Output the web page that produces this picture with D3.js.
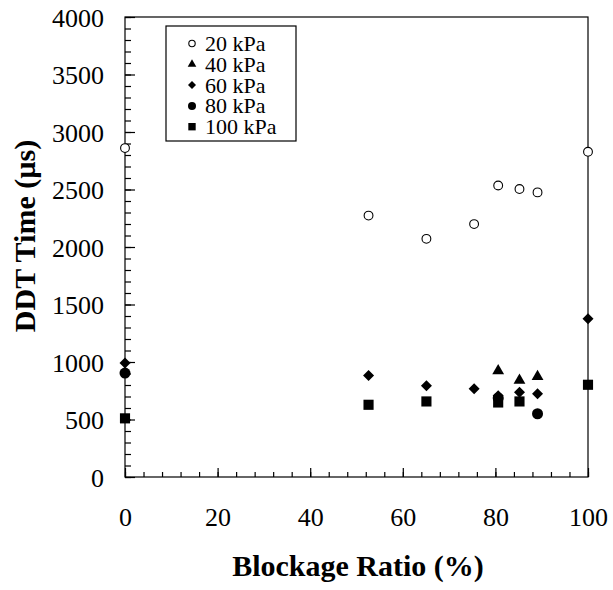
<!DOCTYPE html>
<html>
<head>
<meta charset="utf-8">
<script src="https://cdn.jsdelivr.net/npm/d3@7"></script>
<style>
  body { margin: 0; background: #fff; }
</style>
</head>
<body>
<script>
// Constant
const w = 613;
const h = 590;
const margin = {left: 125, right: 25, top: 17, bottom: 113};
const serif = '"Liberation Serif", "DejaVu Serif", serif';

// Data
const xTicks = [0, 20, 40, 60, 80, 100];
const yTicks = [0, 500, 1000, 1500, 2000, 2500, 3000, 3500, 4000];

const x20 = [0, 52.6, 65.1, 75.4, 80.6, 85.2, 89.1, 100];
const y20 = [2860, 2273, 2071, 2199, 2535, 2504, 2475, 2828];
const x40 = [80.6, 85.2, 89.1];
const y40 = [924, 840, 874];
const x60 = [0, 52.6, 65.1, 75.4, 80.6, 85.2, 89.1, 100];
const y60 = [991, 883, 793, 767, 707, 736, 724, 1376];
const x80 = [0, 80.6, 89.1];
const y80 = [904, 687, 550];
const x100 = [0, 52.6, 65.1, 80.6, 85.2, 100];
const y100 = [510, 628, 657, 648, 657, 802];

const series = [
  {name: '20 kPa', xs: x20, ys: y20, shape: 'open'},
  {name: '40 kPa', xs: x40, ys: y40, shape: 'triangle'},
  {name: '60 kPa', xs: x60, ys: y60, shape: 'diamond'},
  {name: '80 kPa', xs: x80, ys: y80, shape: 'circle'},
  {name: '100 kPa', xs: x100, ys: y100, shape: 'square'}
];

// Create the svg canvas
const svg = d3.select('body')
  .append('svg')
  .attr('width', w)
  .attr('height', h)
  .style('font-family', serif);

const x = d3.scaleLinear().domain([0, 100]).range([margin.left, w - margin.right]);
const y = d3.scaleLinear().domain([0, 4000]).range([h - margin.bottom, margin.top]);

// frame
svg.append('rect')
  .attr('x', x(0)).attr('y', y(4000))
  .attr('width', x(100) - x(0)).attr('height', y(0) - y(4000))
  .attr('fill', 'none').attr('stroke', '#000').attr('stroke-width', 1.2);

// minor ticks, inward
const xAxisMinor = d3.axisBottom(x).tickValues(d3.range(0, 101, 4)).tickSize(-5).tickFormat('');
const yAxisMinor = d3.axisLeft(y).tickValues(d3.range(0, 4001, 100)).tickSize(-6).tickFormat('');
svg.append('g').attr('transform', `translate(0,${y(0)})`).call(xAxisMinor);
svg.append('g').attr('transform', `translate(${x(0)},0)`).call(yAxisMinor);

// major ticks with labels
const xAxis = d3.axisBottom(x).tickValues(xTicks).tickSize(-9).tickPadding(31).tickFormat(d3.format('d'));
const yAxis = d3.axisLeft(y).tickValues(yTicks).tickSize(-10).tickPadding(21).tickFormat(d3.format('d'));
const gx = svg.append('g').attr('transform', `translate(0,${y(0)})`).call(xAxis);
const gy = svg.append('g').attr('transform', `translate(${x(0)},0)`).call(yAxis);

svg.selectAll('.domain').remove();
svg.selectAll('g').attr('font-family', null);
svg.selectAll('.tick line').attr('stroke', '#000').attr('stroke-width', 1.2);
gx.selectAll('text').style('font-family', serif).style('font-size', '26px').attr('fill', '#000').attr('dy', '0.71em');
gy.selectAll('text').style('font-family', serif).style('font-size', '26px').attr('fill', '#000').attr('dy', '0.35em');

// axis titles
svg.append('text')
  .attr('x', 358).attr('y', 576)
  .attr('text-anchor', 'middle')
  .style('font-family', serif)
  .style('font-size', '30px').style('font-weight', 'bold')
  .text('Blockage Ratio (%)');

svg.append('text')
  .attr('transform', 'translate(35,236) rotate(-90)')
  .attr('text-anchor', 'middle')
  .style('font-family', serif)
  .style('font-size', '30px').style('font-weight', 'bold')
  .text('DDT Time (µs)');

// markers
function marker(sel, shape, s) {
  if (shape === 'open' || shape === 'circle') {
    sel.append('circle').attr('r', shape === 'open' ? s * 0.4 : s * 0.5)
      .attr('fill', shape === 'open' ? '#fff' : '#000')
      .attr('stroke', '#000').attr('stroke-width', shape === 'open' ? 1.1 : 0);
  } else if (shape === 'triangle') {
    sel.append('path').attr('d', d3.symbol(d3.symbolTriangle, s * s * 0.5)()).attr('fill', '#000');
  } else if (shape === 'diamond') {
    sel.append('path').attr('d', d3.symbol(d3.symbolSquare, s * s * 0.5)()).attr('transform', 'rotate(45)').attr('fill', '#000');
  } else {
    sel.append('path').attr('d', d3.symbol(d3.symbolSquare, s * s * 0.85)()).attr('fill', '#000');
  }
}

series.forEach((sr) => {
  const pts = sr.xs.map((v, i) => [v, sr.ys[i]]);
  svg.append('g').selectAll('g')
    .data(pts)
    .enter()
    .append('g')
    .attr('transform', (d) => `translate(${x(d[0])},${y(d[1])})`)
    .each(function() { marker(d3.select(this), sr.shape, 11); });
});

// legend
const legend = svg.append('g').attr('transform', 'translate(166,26)');
legend.append('rect')
  .attr('width', 130).attr('height', 115)
  .attr('fill', '#fff').attr('stroke', '#000').attr('stroke-width', 1.2);
series.forEach((sr, i) => {
  const row = legend.append('g').attr('transform', `translate(26,${17.5 + i * 20.8})`);
  marker(row, sr.shape, 8);
  row.append('text').attr('x', 13).attr('dy', '0.34em')
    .style('font-family', serif)
    .style('font-size', '22px').text(sr.name);
});
</script>
</body>
</html>
